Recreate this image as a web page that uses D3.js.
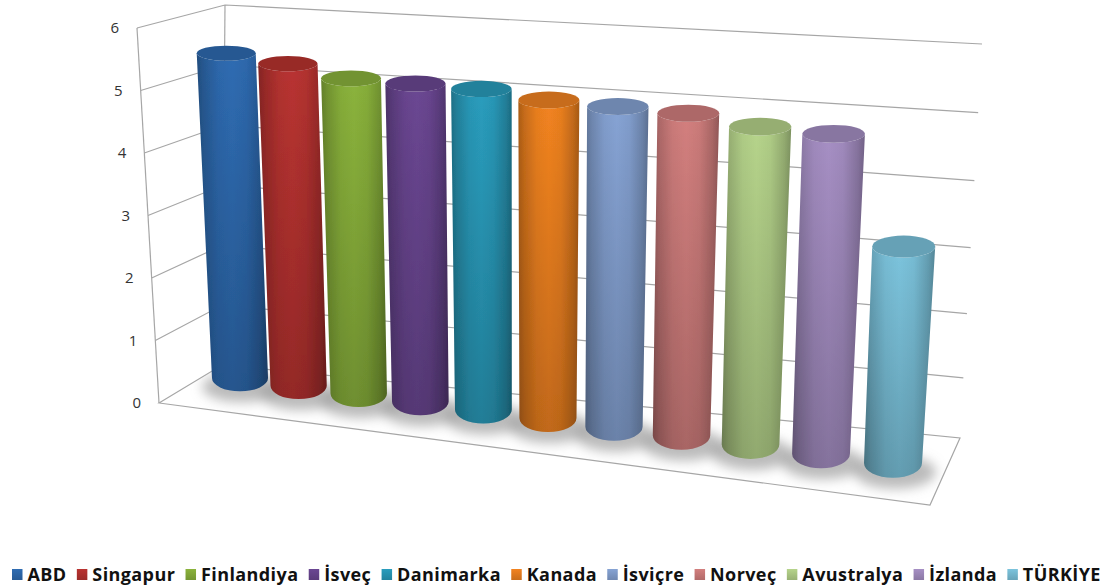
<!DOCTYPE html>
<html><head><meta charset="utf-8">
<script src="https://cdn.jsdelivr.net/npm/d3@7"></script>
<style>html,body{margin:0;background:#fff;overflow:hidden}svg{display:block}</style>
</head><body><div id="c"></div>
<script>
const categories=["ABD","Singapur","Finlandiya","İsveç","Danimarka","Kanada","İsviçre","Norveç","Avustralya","İzlanda","TÜRKİYE"];
const values=[5.30,5.20,5.04,5.03,5.02,4.93,4.91,4.89,4.78,4.76,3.25];
const colors=["#2f6cb2","#b93331","#8bb33c","#6b4793","#2a9dbd","#f28320","#86a3d4","#d37f7e","#b6d48b","#a68fc4","#7cc4dd"];
const tickValues=[0,1,2,3,4,5,6];

const W=1107,H=587;
const svg=d3.select("#c").append("svg").attr("width",W).attr("height",H);
const defs=svg.append("defs");
defs.append("filter").attr("id","soft").attr("x","-5%").attr("y","-5%").attr("width","110%").attr("height","110%")
  .append("feGaussianBlur").attr("stdDeviation",0.45);
defs.append("filter").attr("id","shadow").attr("x","-40%").attr("y","-60%").attr("width","180%").attr("height","220%")
  .append("feGaussianBlur").attr("stdDeviation",6);

// value axis projection
const tv=d3.scalePow().exponent(1.05).domain([0,6]).range([0,1]);
const tl=d3.scaleLinear().domain([0,6]).range([0,1]);
const mix=(a,b,t)=>a+(b-a)*t;
const corner={fl0:[159,403],fl1:[137,28],bl0:[222,365],bl1:[225,5],br0:[960,438],br1:[982,44],fr:[930,505]};
const onEdge=(p0,p1,t)=>[mix(p0[0],p1[0],t),mix(p0[1],p1[1],t)];

const plot=svg.append("g").attr("filter","url(#soft)");
const gridC="#a6a6a6";
const floor=[corner.fl0,corner.bl0,corner.br0,corner.fr];
defs.append("clipPath").attr("id","floorClip").append("path").attr("d",d3.line()(floor)+"Z");
plot.append("path").attr("d",d3.line()(floor)+"Z").attr("fill","#fff").attr("stroke",gridC).attr("stroke-width",1.2);
plot.append("path").attr("d",d3.line()([corner.fl0,corner.fl1])).attr("stroke",gridC).attr("stroke-width",1.2).attr("fill","none");
plot.append("path").attr("d",d3.line()([corner.bl0,corner.bl1])).attr("stroke",gridC).attr("stroke-width",1.2).attr("fill","none");
plot.selectAll("path.grid").data(tickValues.filter(d=>d>0)).join("path").attr("class","grid")
  .attr("fill","none").attr("stroke",gridC).attr("stroke-width",1.2)
  .attr("d",v=>d3.line()([onEdge(corner.fl0,corner.fl1,tl(v)),onEdge(corner.bl0,corner.bl1,tl(v)),onEdge(corner.br0,corner.br1,tv(v))]));

// cylinders
const n=categories.length;
const idx=d3.scalePow().exponent(2).domain([39,39+n-1]).range([240,893]);
const baseY=d3.scaleLinear().domain([240,893]).range([378,463]);
const fullH=d3.scaleLinear().domain([0,n-1]).range([370,412]);
const leanPerUnit=d3.scaleLinear().domain([240,893]).range([-2.6,3.3]);
const topR=d3.scaleLinear().domain([0,n-1]).range([29.5,31.5]);
const botR=d3.scaleLinear().domain([0,n-1]).range([28,29]);
const ryAt=d3.scaleLinear().domain([52,462]).range([7.5,14.8]);

const cyl=categories.map((c,i)=>{
  const bx=idx(39+i),by=baseY(bx),ty=by-fullH(i)*tv(values[i]),tx=bx+leanPerUnit(bx)*values[i];
  return {c,i,bx,by,tx,ty,tr:topR(i),br:botR(i),try:ryAt(ty),bry:ryAt(by),col:colors[i]};
});

const shadows=plot.append("g").attr("clip-path","url(#floorClip)").append("g").attr("filter","url(#shadow)");
shadows.selectAll("ellipse").data(cyl).join("ellipse")
  .attr("cx",d=>d.bx+2).attr("cy",d=>d.by+9)
  .attr("rx",d=>d.br+12).attr("ry",d=>d.bry+2)
  .attr("fill","#969696").attr("fill-opacity",0.65);

cyl.forEach(d=>{
  const base=d3.color(d.col);
  const g=defs.append("linearGradient").attr("id","g"+d.i);
  [[0,base.darker(0.95)],[0.1,base.darker(0.55)],[0.3,base.darker(0.12)],[0.5,base],[0.7,base.darker(0.12)],[0.9,base.darker(0.6)],[1,base.darker(1.05)]]
    .forEach(([o,c])=>g.append("stop").attr("offset",o).attr("stop-color",c));
});
const fade=defs.append("linearGradient").attr("id","fade").attr("x1",0).attr("x2",0).attr("y1",0).attr("y2",1);
fade.append("stop").attr("offset",0).attr("stop-color","#000").attr("stop-opacity",0);
fade.append("stop").attr("offset",1).attr("stop-color","#000").attr("stop-opacity",0.2);

const bodyPath=d=>`M${d.tx-d.tr},${d.ty} L${d.bx-d.br},${d.by} A${d.br},${d.bry} 0 0 0 ${d.bx+d.br},${d.by} L${d.tx+d.tr},${d.ty} A${d.tr},${d.try} 0 0 1 ${d.tx-d.tr},${d.ty}Z`;
const bars=plot.selectAll("g.bar").data(cyl).join("g").attr("class","bar");
bars.append("path").attr("d",bodyPath).attr("fill",d=>`url(#g${d.i})`);
bars.append("path").attr("d",bodyPath).attr("fill","url(#fade)");
bars.append("ellipse").attr("cx",d=>d.tx).attr("cy",d=>d.ty).attr("rx",d=>d.tr).attr("ry",d=>d.try)
  .attr("fill",d=>d3.color(d.col).darker(0.55));

// tick labels
svg.selectAll("text.tick").data(tickValues).join("text").attr("class","tick")
  .attr("x",v=>onEdge(corner.fl0,corner.fl1,tl(v))[0]-18)
  .attr("y",v=>onEdge(corner.fl0,corner.fl1,tl(v))[1]+1)
  .attr("text-anchor","end").attr("dominant-baseline","middle")
  .attr("font-family","'Open Sans',sans-serif").attr("font-size",15).attr("fill","#333")
  .text(v=>v);

// legend
const legend=svg.append("g");
let lx=12;
const gap=10.3;
cyl.forEach(d=>{
  const item=legend.append("g");
  const grad=defs.append("linearGradient").attr("id","lg"+d.i).attr("x1",0).attr("x2",0).attr("y1",0).attr("y2",1);
  grad.append("stop").attr("offset",0).attr("stop-color",d.col);
  grad.append("stop").attr("offset",1).attr("stop-color",d3.color(d.col).darker(0.5));
  item.append("rect").attr("x",lx).attr("y",569).attr("width",10.5).attr("height",11).attr("fill",`url(#lg${d.i})`);
  const t=item.append("text").attr("x",lx+15.5).attr("y",581)
    .attr("font-family","'Open Sans',sans-serif").attr("font-weight",700).attr("font-size",18).attr("letter-spacing",0.4).attr("fill","#111")
    .text(d.c);
  lx+=15.5+t.node().getComputedTextLength()+gap;
});
</script></body></html>
